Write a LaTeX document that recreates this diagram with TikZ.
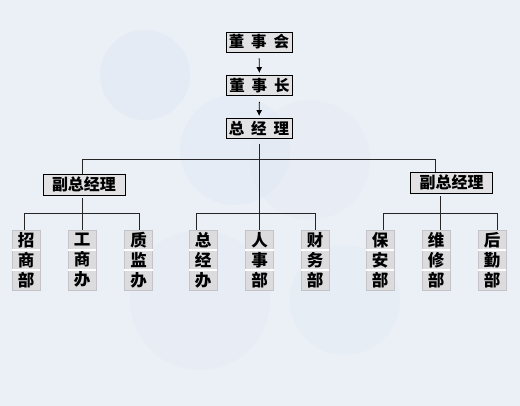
\documentclass[tikz,border=0pt]{standalone}
\usepackage{fontspec}
\usetikzlibrary{arrows.meta}
\newfontfamily\cjk{Noto Sans CJK SC}
\definecolor{bgc}{RGB}{235,240,247}
\definecolor{bubble}{RGB}{224,231,242}
\definecolor{boxfill}{RGB}{226,226,228}
\definecolor{cellfill}{RGB}{220,220,222}
\definecolor{celledge}{RGB}{196,196,200}
\begin{document}
\begin{tikzpicture}[x=1pt,y=-1pt,
  topbox/.style={draw=black,line width=0.9pt,fill=boxfill,inner sep=0pt,
    minimum width=66pt,minimum height=20pt,font=\cjk\bfseries\fontsize{15.5pt}{15.5pt}\selectfont},
  vicebox/.style={draw=black,line width=0.9pt,fill=boxfill,inner sep=0pt,
    minimum width=82pt,minimum height=21pt,font=\cjk\bfseries\fontsize{16pt}{16pt}\selectfont},
  colbox/.style={draw=celledge,line width=0.8pt,fill=cellfill,inner sep=0pt,
    minimum width=28pt,minimum height=60pt,align=center,
    font=\cjk\bfseries\fontsize{16.5pt}{20pt}\selectfont},
  conn/.style={draw=black!85,line width=0.9pt},
  arr/.style={draw=black,line width=0.9pt,-{Latex[length=6pt,width=6pt]}}
]
\useasboundingbox (0,0) rectangle (520,406);
% background
\fill[bgc] (0,0) rectangle (520,406);
\fill[bubble,opacity=0.5] (145,75) circle (45);
\fill[bubble,opacity=0.4] (235,150) circle (55);
\fill[bubble,opacity=0.35] (310,160) circle (60);
\fill[bubble,opacity=0.35] (200,300) circle (70);
\fill[bubble,opacity=0.3] (345,300) circle (55);

% top chain
\node[topbox] (dsh) at (259,42) {董\hspace{7pt}事\hspace{7pt}会};
\node[topbox] (dsz) at (259.5,85.5) {董\hspace{7pt}事\hspace{7pt}长};
\node[topbox] (zjl) at (259,128.5) {总\hspace{7pt}经\hspace{7pt}理};
\draw[arr,shorten <=6pt,shorten >=2pt] (dsh) -- (dsz);
\draw[arr,shorten <=6pt,shorten >=2pt] (dsz) -- (zjl);

% vice managers
\node[vicebox] (fz1) at (84,184.5) {副总经理};
\node[vicebox] (fz2) at (451.5,182.5) {副总经理};

% departments
\node[colbox] (c1) at (26,260) {招\\商\\部};
\node[colbox] (c2) at (82,260) {工\\商\\办};
\node[colbox] (c3) at (138.5,260) {质\\监\\办};
\node[colbox] (c4) at (203,260) {总\\经\\办};
\node[colbox] (c5) at (259.5,260) {人\\事\\部};
\node[colbox] (c6) at (315,260) {财\\务\\部};
\node[colbox] (c7) at (380,260) {保\\安\\部};
\node[colbox] (c8) at (436,260) {维\\修\\部};
\node[colbox] (c9) at (492,260) {后\\勤\\部};
\foreach \c in {c1,c2,c3,c4,c5,c6,c7,c8,c9}{
  \draw[white,line width=1.2pt] ([yshift=-10pt]\c.west) -- ([yshift=-10pt]\c.east);
  \draw[white,line width=1.2pt] ([yshift=10pt]\c.west) -- ([yshift=10pt]\c.east);
}

% junction coordinates
\coordinate (ta) at (82,159);
\coordinate (tb) at (435,159);
\coordinate (m0) at (259,213);
\coordinate (m1) at (196,213);
\coordinate (m2) at (315,213);
\coordinate (l0) at (82,213);
\coordinate (l1) at (24,213);
\coordinate (l2) at (139,213);
\coordinate (r0) at (440,213);
\coordinate (r1) at (383,213);
\coordinate (r2) at (497,213);

% connectors
\draw[conn,shorten <=5pt] (zjl.south) -- (m0);
\draw[conn] (ta |- fz1.north) -- (ta) -- (tb) -- (tb |- fz2.north);
\draw[conn] (m1 |- c4.north) -- (m1) -- (m2) -- (m2 |- c6.north);
\draw[conn] (m0) -- (m0 |- c5.north);
\draw[conn,shorten <=3pt] (l0 |- fz1.south) -- (l0 |- c2.north);
\draw[conn] (l1 |- c1.north) -- (l1) -- (l2) -- (l2 |- c3.north);
\draw[conn,shorten <=3pt] (r0 |- fz2.south) -- (r0 |- c8.north);
\draw[conn] (r1 |- c7.north) -- (r1) -- (r2) -- (r2 |- c9.north);
\end{tikzpicture}
\end{document}
